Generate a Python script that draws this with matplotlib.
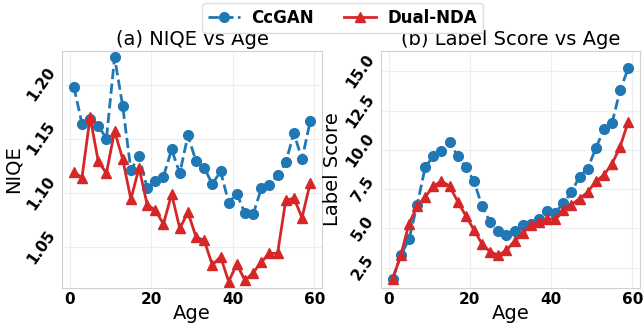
import matplotlib.pyplot as plt

ages = list(range(1, 60, 2))

niqe_ccgan = [1.198, 1.164, 1.168, 1.162, 1.150, 1.225, 1.180, 1.121, 1.134, 1.104,
              1.111, 1.115, 1.140, 1.118, 1.153, 1.129, 1.123, 1.108, 1.120, 1.091,
              1.099, 1.081, 1.080, 1.104, 1.107, 1.116, 1.128, 1.155, 1.131, 1.166]
niqe_dual = [1.119, 1.114, 1.170, 1.129, 1.118, 1.157, 1.131, 1.094, 1.123, 1.089,
             1.084, 1.071, 1.099, 1.067, 1.082, 1.059, 1.056, 1.033, 1.041, 1.018,
             1.034, 1.019, 1.026, 1.036, 1.044, 1.044, 1.093, 1.095, 1.077, 1.109]

ls_ccgan = [1.8, 3.3, 4.3, 6.5, 8.9, 9.6, 9.9, 10.5, 9.6, 8.9,
            8.0, 6.4, 5.4, 4.8, 4.6, 4.8, 5.2, 5.3, 5.6, 6.1,
            6.0, 6.6, 7.3, 8.3, 8.8, 10.1, 11.3, 11.7, 13.8, 15.2]
ls_dual = [1.8, 3.3, 5.3, 6.4, 7.0, 7.7, 8.0, 7.7, 6.7, 5.8,
           4.9, 4.0, 3.5, 3.3, 3.6, 4.2, 4.7, 5.2, 5.4, 5.6,
           5.6, 6.2, 6.5, 6.9, 7.3, 8.0, 8.4, 9.1, 10.2, 11.8]

niqe_ticks = [1.05, 1.10, 1.15, 1.20]
ls_ticks = [2.5, 5.0, 7.5, 10.0, 12.5, 15.0]

blue = "#1f77b4"
red = "#d62728"

fig = plt.figure(figsize=(6.44, 3.26), dpi=100)
ax1 = fig.add_axes([62 / 644, 1 - 288 / 326, 260 / 644, 237 / 326])
ax2 = fig.add_axes([381 / 644, 1 - 288 / 326, 259 / 644, 237 / 326])


def style(ax, title, ylabel, yticks, fmt):
    ax.set_title(title, fontsize=14, pad=4)
    ax.set_xlabel("Age", fontsize=14, labelpad=-2)
    ax.set_ylabel(ylabel, fontsize=14, labelpad=1)
    ax.set_xticks([0, 20, 40, 60])
    ax.set_yticks(yticks)
    ax.set_yticklabels([fmt.format(v) for v in yticks], rotation=55,
                       fontweight="bold", va="center")
    ax.grid(True, color="#eeeeee", linewidth=0.8)
    ax.set_axisbelow(True)
    for s in ax.spines.values():
        s.set_color("#d0d0d0")
    ax.tick_params(length=0, labelsize=11, pad=3)
    for lab in ax.get_xticklabels():
        lab.set_fontweight("bold")


ax1.plot(ages, niqe_ccgan, "--o", color=blue, lw=2, ms=7, label="CcGAN")
ax1.plot(ages, niqe_dual, "-^", color=red, lw=2, ms=7, label="Dual-NDA")
style(ax1, "(a) NIQE vs Age", "NIQE", niqe_ticks, "{:.2f}")
ax1.set_ylim(1.012, 1.231)

ax2.plot(ages, ls_ccgan, "--o", color=blue, lw=2, ms=7)
ax2.plot(ages, ls_dual, "-^", color=red, lw=2, ms=7)
style(ax2, "(b) Label Score vs Age", "Label Score", ls_ticks, "{:.1f}")
ax2.set_ylim(1.2, 16.3)

fig.legend(loc="upper center", bbox_to_anchor=(0.532, 1.015), ncol=2,
           prop={"weight": "bold", "size": 12}, handlelength=1.9,
           handletextpad=0.7, columnspacing=1.8, edgecolor="#dddddd",
           framealpha=1, borderpad=0.35)

fig.savefig("out.png", dpi=100)
